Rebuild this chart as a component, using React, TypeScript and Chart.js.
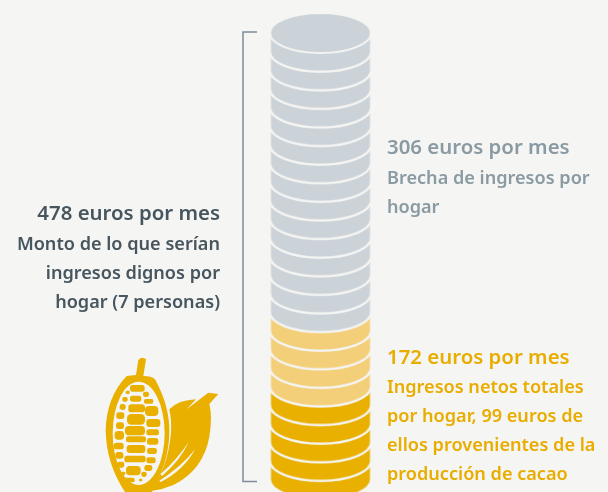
import React, { useEffect, useRef } from "react";
import { Chart, registerables } from "chart.js";

Chart.register(...registerables);

const BG = "#f5f5f3";
const GREY = "#cbd2d8";
const LIGHT = "#f4cf7a";
const DARK = "#e9b000";
const TEXT_DARK = "#46555e";
const TEXT_GREY = "#8a9aa3";
const TEXT_GOLD = "#e9ad00";
const BRACKET = "#7f8d96";

// Euro level of each coin's face, top coin first (drawn lower coins first)
const greyCoinLevels = [200, 219.8, 239.5, 259.3, 279.1, 298.9, 318.7, 338.5, 358.2, 378, 397.8, 417.6, 437.3, 457.1, 476.9];
const lightCoinLevels = [120.9, 140.7, 160.4, 180.2];
const darkCoinLevels = [22, 41.8, 61.5, 81.3, 101.1];
const bracketLevels = [478, 478, 0, 0];
const bracketX = [257, 243, 243, 257];
const stackX = 320.5;

const labelsLeft = [
  { t: "478 euros por mes", y: 220, big: true },
  { t: "Monto de lo que serían", y: 250 },
  { t: "ingresos dignos por", y: 279 },
  { t: "hogar (7 personas)", y: 308 },
];
const labelsGrey = [
  { t: "306 euros por mes", y: 154, big: true },
  { t: "Brecha de ingresos por", y: 184 },
  { t: "hogar", y: 213 },
];
const labelsGold = [
  { t: "172 euros por mes", y: 364, big: true },
  { t: "Ingresos netos totales", y: 393 },
  { t: "por hogar, 99 euros de", y: 422 },
  { t: "ellos provenientes de la", y: 451 },
  { t: "producción de cacao", y: 480 },
];

const kernels: number[][] = [
  [142, 115, 22, 10], [113, 127, 6, 5], [168, 133, 9, 8], [137, 146, 17, 9], [105, 148, 8, 7],
  [176, 154, 14, 7], [98, 171, 9, 9], [140, 175, 25, 12], [185, 183, 20, 15], [91, 197, 12, 10],
  [138, 208, 27, 16], [190, 219, 21, 12], [90, 227, 12, 10], [135, 242, 30, 14], [188, 247, 19, 9],
  [88, 256, 14, 13], [138, 268, 30, 9], [188, 274, 17, 10], [86, 288, 15, 10], [138, 297, 28, 12],
  [186, 303, 15, 9], [88, 316, 12, 10], [135, 327, 32, 10], [183, 331, 14, 9], [92, 344, 11, 9],
  [175, 354, 12, 9], [130, 362, 22, 14], [100, 370, 6, 5], [162, 373, 8, 8], [117, 390, 17, 7], [152, 390, 5, 4],
];

function makeCoin(color: string) {
  const rx = 50.5, ry = 20, h = 18.6;
  const c = document.createElement("canvas");
  c.width = 110;
  c.height = 100;
  const g = c.getContext("2d")!;
  const cx = 55, cy = 50;
  const outline = () => {
    g.beginPath();
    g.ellipse(cx, cy, rx, ry, 0, Math.PI, 2 * Math.PI);
    g.lineTo(cx + rx, cy + h);
    g.ellipse(cx, cy + h, rx, ry, 0, 0, Math.PI);
    g.closePath();
  };
  outline();
  g.fillStyle = color;
  g.fill();
  g.strokeStyle = BG;
  g.lineWidth = 2;
  outline();
  g.stroke();
  g.beginPath();
  g.ellipse(cx, cy, rx, ry, 0, 0, Math.PI);
  g.stroke();
  return c;
}

const decorPlugin = {
  id: "decor",
  afterDatasetsDraw(chart: any) {
    const g: CanvasRenderingContext2D = chart.ctx;
    g.save();
    g.textBaseline = "alphabetic";
    const draw = (list: any[], x: number, align: CanvasTextAlign, color: string) => {
      g.textAlign = align;
      list.forEach((l) => {
        g.font = l.big ? '600 20.4px "Noto Sans"' : '600 18.1px "Noto Sans"';
        g.fillStyle = color;
        g.fillText(l.t, x, l.y);
      });
    };
    draw(labelsLeft, 220, "right", TEXT_DARK);
    draw(labelsGrey, 387, "left", TEXT_GREY);
    draw(labelsGold, 387, "left", TEXT_GOLD);

    g.translate(90, 350);
    g.scale(1 / 3, 1 / 3);
    g.fillStyle = DARK;
    g.fill(new Path2D("M180 424Q232 360 243 250Q245 210 238 178Q265 150 318 148L290 178L355 128L385 132L358 162Q368 200 358 260Q340 360 250 405Q215 420 180 424Z"));
    g.fillStyle = BG;
    g.fill(new Path2D("M212 372Q262 328 296 276Q272 330 216 378Z"));
    g.fill(new Path2D("M208 392Q272 352 316 297Q280 362 212 396Z"));
    g.fillStyle = DARK;
    g.fill(new Path2D("M138 75L145 30Q155 18 168 28L160 78Q185 78 195 88Q240 170 238 250Q236 340 185 426L105 426Q48 340 47 240Q50 140 110 78Z"));
    g.fillStyle = BG;
    g.beginPath();
    g.ellipse(146, 250, 78, 155, 0, 0, 2 * Math.PI);
    g.fill();
    g.fillStyle = DARK;
    kernels.forEach(([x, y, rx, ry]) => {
      g.beginPath();
      g.roundRect(x - rx, y - ry, rx * 2, ry * 2, Math.min(rx, ry) * 0.8);
      g.fill();
    });
    g.restore();
  },
};

const points = (levels: number[]) => levels.map((y) => ({ x: stackX, y }));

export default function App() {
  const ref = useRef<HTMLCanvasElement>(null);
  useEffect(() => {
    document.body.style.background = BG;
    document.body.style.overflow = "hidden";
    const coin = (color: string) => ({
      pointStyle: makeCoin(color) as any,
      showLine: false,
      pointRadius: 55,
      pointHoverRadius: 55,
    });
    const chart = new Chart(ref.current!, {
      type: "scatter",
      data: {
        datasets: [
          { label: "Brecha de ingresos", data: points(greyCoinLevels), ...coin(GREY) },
          { label: "Ingresos netos", data: points(lightCoinLevels), ...coin(LIGHT) },
          { label: "Producción de cacao", data: points(darkCoinLevels), ...coin(DARK) },
          {
            label: "Ingresos dignos",
            data: bracketX.map((x, i) => ({ x, y: bracketLevels[i] })),
            showLine: true,
            borderColor: BRACKET,
            borderWidth: 1.5,
            pointRadius: 0,
            tension: 0,
          },
        ],
      },
      options: {
        animation: false,
        responsive: false,
        layout: { padding: 0, autoPadding: false },
        plugins: { legend: { display: false }, tooltip: { enabled: false } },
        scales: {
          x: { type: "linear", display: false, min: 0, max: 608 },
          y: { type: "linear", display: false, min: -11.17, max: 512.03 },
        },
      },
      plugins: [decorPlugin as any],
    });
    return () => chart.destroy();
  }, []);
  return <canvas ref={ref} width={608} height={492} style={{ position: "fixed", left: 0, top: 0, width: 608, height: 492, display: "block" }} />;
}
